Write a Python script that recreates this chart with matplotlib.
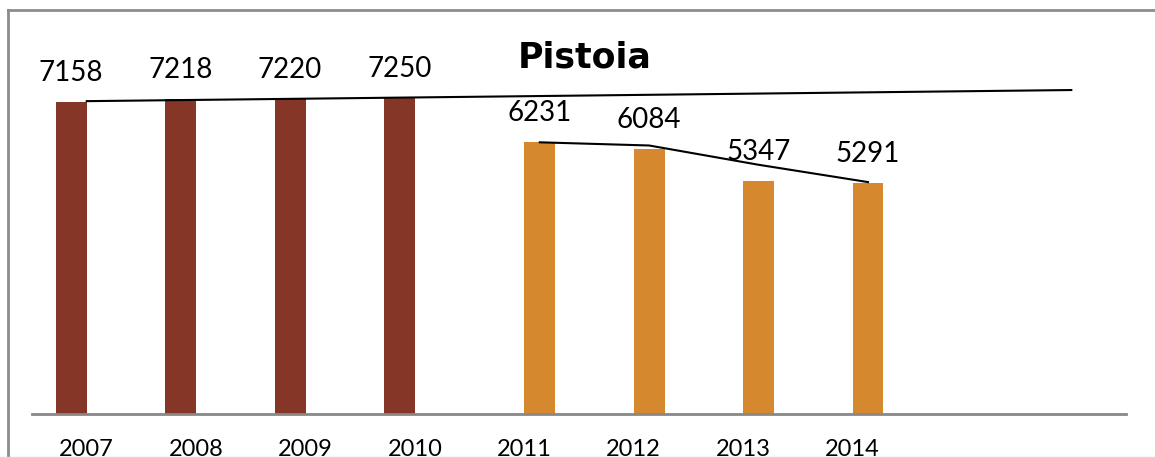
"""Pistoia bar chart with trend lines, saved as out.png."""
import matplotlib.pyplot as plt
from matplotlib.lines import Line2D
import numpy as np

years = ["2007", "2008", "2009", "2010", "2011", "2012", "2013", "2014", "", ""]
brown_vals = [7158, 7218, 7220, 7250]
orange_vals = [6231, 6084, 5347, 5291]
# linear trend over the first series, read at 2007 and at the last (empty) slot
trend_vals = [7175, 7430]
# line across the second series
orange_line = [6231, 6158, 5716, 5319]

BROWN = "#863626"
ORANGE = "#D6882F"
W = 0.283

fig = plt.figure(figsize=(11.55, 4.58), dpi=100)
ax = fig.add_axes([32 / 1155, 1 - 414 / 458, 1094 / 1155, 383.7 / 458])

x = np.arange(len(years))
xb = x[:4] - W / 2
xo = x[4:8] + W / 2
ax.bar(xb, brown_vals, width=W, color=BROWN, zorder=2)
ax.bar(xo, orange_vals, width=W, color=ORANGE, zorder=2)

ax.plot([x[0], x[-1]], trend_vals, color="black", lw=1.5, zorder=3)
ax.plot(xo, orange_line, color="black", lw=1.5, zorder=3)

for xi, v in list(zip(xb, brown_vals)) + list(zip(xo, orange_vals)):
    ax.annotate(str(v), (xi, v), xytext=(0, 15), textcoords="offset points",
                ha="center", va="baseline", fontsize=20, family="Lato")

ax.set_xlim(-0.5, 9.5)
ax.set_ylim(0, 8800)
ax.set_xticks(x)
ax.set_xticklabels(years, fontsize=17, family="Lato")
ax.tick_params(axis="x", length=0, pad=18)
ax.set_yticks([])
for s in ["top", "right", "left"]:
    ax.spines[s].set_visible(False)
ax.spines["bottom"].set_color("#888888")
ax.spines["bottom"].set_linewidth(2)
ax.set_facecolor("none")

fig.text(585 / 1155, 1 - 67 / 458, "Pistoia", ha="center", va="baseline",
         fontsize=25, fontweight="bold", family="DejaVu Sans")

# outer chart frame
fig.add_artist(Line2D([8 / 1155, 8 / 1155], [0, 1 - 10 / 458],
                      transform=fig.transFigure, color="#8c8c8c", lw=2))
fig.add_artist(Line2D([8 / 1155, 1], [1 - 10 / 458, 1 - 10 / 458],
                      transform=fig.transFigure, color="#8c8c8c", lw=2))
fig.add_artist(Line2D([0, 1], [1 - 457 / 458, 1 - 457 / 458],
                      transform=fig.transFigure, color="#d9d9d9", lw=1))

fig.savefig("out.png", dpi=100)
